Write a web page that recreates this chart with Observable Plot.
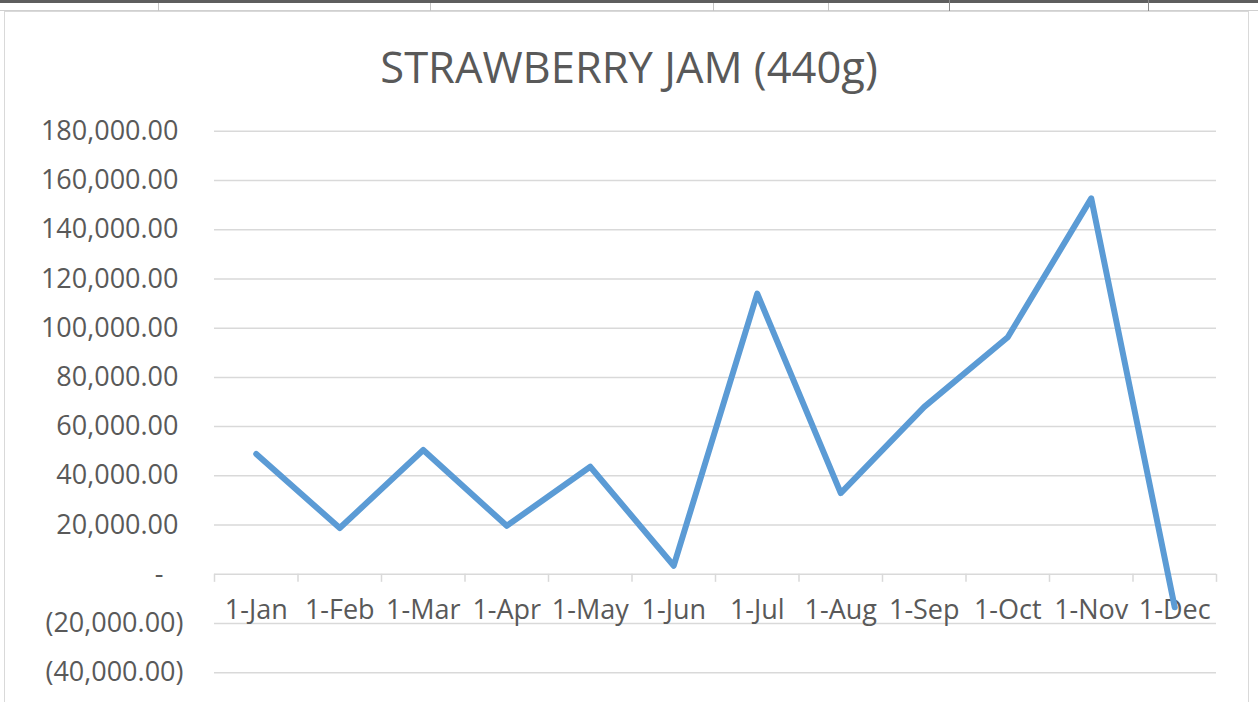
<!DOCTYPE html>
<html>
<head>
<meta charset="utf-8">
<script src="https://cdn.jsdelivr.net/npm/d3@7"></script>
<script src="https://cdn.jsdelivr.net/npm/@observablehq/plot@0.6"></script>
<style>
  body { margin: 0; background: #fff; }
  #sheet { position: relative; width: 1258px; height: 702px; overflow: hidden; background: #fff; font-family: "Open Sans", sans-serif; }
  .topbar { position: absolute; left: 0; top: 0; width: 1258px; height: 3px; background: #5e5e5e; }
  .cellrow { position: absolute; left: 0; top: 3px; width: 1258px; height: 7px; border-bottom: 1px solid #d0d0d0; }
  .sep { position: absolute; top: 3px; width: 1px; height: 8px; background: #c4c4c4; }
  .sep.dark { background: #8a8a8a; top: 0; height: 11px; }
  .chartbox { position: absolute; left: 4px; top: 11px; width: 1243px; height: 720px; border: 1.5px solid #d9d9d9; background: #fff; }
  #title { position: absolute; left: 0; top: 45px; width: 1258px; text-align: center; font-size: 43.5px; line-height: 43.5px; color: #595959; }
  #chart { position: absolute; left: 0; top: 100px; }
</style>
</head>
<body>
<div id="sheet">
  <div class="topbar"></div>
  <div class="cellrow"></div>
  <div class="sep" style="left:158px"></div>
  <div class="sep" style="left:430px"></div>
  <div class="sep" style="left:713px"></div>
  <div class="sep" style="left:828px"></div>
  <div class="sep dark" style="left:949px"></div>
  <div class="sep dark" style="left:1148px"></div>
  <div class="chartbox"></div>
  <div id="title">STRAWBERRY JAM (440g)</div>
  <div id="chart"></div>
</div>
<script>
// Monthly figures for strawberry jam (440g)
const months = ["1-Jan", "1-Feb", "1-Mar", "1-Apr", "1-May", "1-Jun", "1-Jul", "1-Aug", "1-Sep", "1-Oct", "1-Nov", "1-Dec"];
const values = [48900, 18800, 50500, 19700, 43700, 3500, 114000, 33000, 68000, 96300, 152700, -13400];

// Value axis ticks
const yTicks = [-40000, -20000, 0, 20000, 40000, 60000, 80000, 100000, 120000, 140000, 160000, 180000];

// Accounting-style number format: 1,234.00 / (1,234.00) / -
const fmt = d3.format(",.2f");
const acct = v => v === 0 ? "-" : v < 0 ? `(${fmt(-v)})` : fmt(v);

const idx = months.map((_, i) => i);
const points = idx.map(i => ({i, month: months[i], value: values[i]}));
// category boundaries for the axis tick marks
const bounds = d3.range(months.length + 1).map(i => i - 0.5);

const grey = "#d9d9d9";
const ink = "#595959";

const chart = Plot.plot({
  width: 1258,
  height: 602,
  marginLeft: 214,
  marginRight: 42,
  marginTop: 30.7,
  marginBottom: 29.7,
  style: { fontFamily: "'Open Sans', sans-serif", fontSize: "27px", color: ink, background: "transparent" },
  x: { domain: [-0.5, months.length - 0.5], axis: null },
  y: { domain: [yTicks[0], yTicks[yTicks.length - 1]], axis: null },
  marks: [
    Plot.gridY(yTicks, { stroke: grey, strokeOpacity: 1, strokeWidth: 1.5 }),
    Plot.ruleX(bounds, { y1: 0, y2: 0, insetBottom: -8, stroke: grey, strokeWidth: 1.5 }),
    Plot.axisY(yTicks.filter(v => v > 0), { tickSize: 0, tickPadding: 36, tickFormat: acct, label: null }),
    Plot.axisY(yTicks.filter(v => v < 0), { tickSize: 0, tickPadding: 31, tickFormat: acct, label: null }),
    Plot.axisY(yTicks.filter(v => v === 0), { tickSize: 0, tickPadding: 51, tickFormat: acct, label: null }),
    Plot.text(points, { x: "i", y: 0, dy: 36, text: "month", fill: ink }),
    Plot.line(points, {
      x: "i", y: "value",
      stroke: "#5b9bd5", strokeWidth: 6,
      strokeLinejoin: "round", strokeLinecap: "round"
    })
  ]
});

document.getElementById("chart").appendChild(chart);
</script>
</body>
</html>
